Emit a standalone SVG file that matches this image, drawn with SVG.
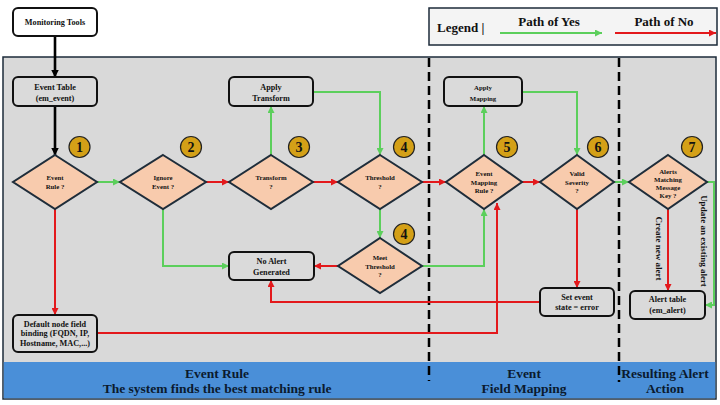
<svg xmlns="http://www.w3.org/2000/svg" width="720" height="405" viewBox="0 0 720 405">
<style>
.t{font-family:"Liberation Serif","Times New Roman",serif;font-weight:bold;text-anchor:middle;fill:#111}
.box{fill:#fff;stroke:#111;stroke-width:2}
.gbox{fill:#dadada;stroke:#111;stroke-width:2}
.dia{fill:#f8cbad;stroke:#1f2d3a;stroke-width:2}
.badge{fill:#d4a017;stroke:#222;stroke-width:1.2}
.g{fill:none;stroke:#5ccf5c;stroke-width:2;marker-end:url(#ag)}
.r{fill:none;stroke:#e3191c;stroke-width:2;marker-end:url(#ar)}
.k{fill:none;stroke:#000;stroke-width:2.6;marker-end:url(#ak)}
.n8{font-size:8.2px}
.n7{font-size:6.8px}
.bn{font-size:14px}
.band{font-size:13.5px;fill:#0b1a2e}
</style>
<defs>
<marker id="ag" markerUnits="userSpaceOnUse" markerWidth="7" markerHeight="7" refX="7" refY="3.5" orient="auto"><path d="M0,0 L7,3.5 L0,7 z" fill="#5ccf5c"/></marker>
<marker id="ar" markerUnits="userSpaceOnUse" markerWidth="7" markerHeight="7" refX="7" refY="3.5" orient="auto"><path d="M0,0 L7,3.5 L0,7 z" fill="#e3191c"/></marker>
<marker id="ak" markerUnits="userSpaceOnUse" markerWidth="8" markerHeight="8" refX="7.5" refY="4" orient="auto"><path d="M0,0 L8,4 L0,8 z" fill="#000"/></marker>
</defs>

<!-- background panels -->
<rect x="3" y="57" width="713" height="342" fill="#d9d9d9" stroke="#1c2b3a" stroke-width="1.5"/>
<rect x="3.75" y="362" width="711.5" height="36.25" fill="#4a8fd8"/>
<line x1="429" y1="58" x2="429" y2="381" stroke="#000" stroke-width="2.5" stroke-dasharray="9,5"/>
<line x1="619" y1="58" x2="619" y2="382" stroke="#000" stroke-width="2.5" stroke-dasharray="9,5"/>

<!-- legend -->
<g id="legend">
<rect x="429" y="8" width="288" height="37" fill="#f4f4f4" stroke="#1c2b3a" stroke-width="1.5"/>
<text class="t" x="437" y="32" style="font-size:13px;text-anchor:start">Legend |</text>
<text class="t" x="549" y="26" style="font-size:13px">Path of Yes</text>
<text class="t" x="664" y="26" style="font-size:13px">Path of No</text>
<path class="g" d="M500,33 H602"/>
<path class="r" d="M615,33 H716"/>
</g>

<!-- connectors -->
<g id="connectors">
<path class="k" d="M55,36 V77"/>
<path class="k" d="M55,106 V155"/>
<path class="g" d="M97,182 H120"/>
<path class="g" d="M163,209 V266 H229"/>
<path class="g" d="M271,155 V106"/>
<path class="g" d="M313,92 H380 V155"/>
<path class="g" d="M380,209 V238"/>
<path class="g" d="M422,266 H484 V209"/>
<path class="g" d="M484,155 V106"/>
<path class="g" d="M522,92 H577 V155"/>
<path class="g" d="M614,182 H629"/>
<path class="g" d="M707,182 H714 V305 H705"/>
<path class="r" d="M55,209 V315"/>
<path class="r" d="M206,182 H229"/>
<path class="r" d="M313,182 H338"/>
<path class="r" d="M422,182 H446"/>
<path class="r" d="M338,266 H314"/>
<path class="r" d="M522,182 H540"/>
<path class="r" d="M577,209 V288"/>
<path class="r" d="M540,302 H271 V280"/>
<path class="r" d="M97,333 H497 V203"/>
<path class="r" d="M668,209 V291"/>
<text class="t" transform="translate(656,248.5) rotate(90)" style="font-size:9px">Create new alert</text>
<text class="t" transform="translate(701,241) rotate(90)" style="font-size:9px">Update an existing alert</text>
</g>

<!-- nodes -->
<g id="monitoring"><rect class="box" x="13" y="8" width="84" height="28" rx="5"/><text class="t n8" x="55" y="25">Monitoring Tools</text></g>
<g id="eventTable"><rect class="gbox" x="13" y="77" width="84" height="29" rx="5"/><text class="t n8" x="55" y="90">Event Table</text><text class="t n8" x="55" y="101">(em_event)</text></g>
<g id="applyTransform"><rect class="gbox" x="229" y="77" width="84" height="29" rx="5"/><text class="t n8" x="271" y="90">Apply</text><text class="t n8" x="271" y="101">Transform</text></g>
<g id="applyMapping"><rect class="gbox" x="444" y="77" width="78" height="29" rx="5"/><text class="t" x="483" y="90" style="font-size:6.8px">Apply</text><text class="t" x="483" y="101" style="font-size:6.8px">Mapping</text></g>
<g id="noAlert"><rect class="gbox" x="229" y="252" width="85" height="28" rx="5"/><text class="t n8" x="271.5" y="264">No Alert</text><text class="t n8" x="271.5" y="275">Generated</text></g>
<g id="defaultBinding"><rect class="gbox" x="13" y="315" width="84" height="37" rx="5"/><text class="t n8" x="55" y="327">Default node field</text><text class="t n8" x="55" y="336">binding (FQDN, IP,</text><text class="t n8" x="55" y="346">Hostname, MAC,...)</text></g>
<g id="setEvent"><rect class="gbox" x="540" y="288" width="74" height="28" rx="5"/><text class="t n8" x="577" y="300">Set event</text><text class="t n8" x="577" y="310">state = error</text></g>
<g id="alertTable"><rect class="gbox" x="630" y="291" width="75" height="28" rx="5"/><text class="t n8" x="667.5" y="302">Alert table</text><text class="t n8" x="667.5" y="313">(em_alert)</text></g>

<g id="d1"><polygon class="dia" points="55,155 97,182 55,209 13,182"/><text class="t n7" x="55" y="180">Event</text><text class="t n7" x="55" y="188.5">Rule ?</text></g>
<g id="d2"><polygon class="dia" points="163,155 206,182 163,209 120,182"/><text class="t n7" x="163" y="180">Ignore</text><text class="t n7" x="163" y="188.5">Event ?</text></g>
<g id="d3"><polygon class="dia" points="271,155 313,182 271,209 229,182"/><text class="t n7" x="271" y="180">Transform</text><text class="t n7" x="271" y="188.5">?</text></g>
<g id="d4"><polygon class="dia" points="380,155 422,182 380,209 338,182"/><text class="t n7" x="380" y="180">Threshold</text><text class="t n7" x="380" y="188.5">?</text></g>
<g id="d4b"><polygon class="dia" points="380,238 422,266 380,293 338,266"/><text class="t n7" x="380" y="260">Meet</text><text class="t n7" x="380" y="269">Threshold</text><text class="t n7" x="380" y="277">?</text></g>
<g id="d5"><polygon class="dia" points="484,155 522,182 484,209 446,182"/><text class="t n7" x="484" y="176">Event</text><text class="t n7" x="484" y="184.5">Mapping</text><text class="t n7" x="484" y="193">Rule ?</text></g>
<g id="d6"><polygon class="dia" points="577,155 614,182 577,209 540,182"/><text class="t n7" x="577" y="176">Valid</text><text class="t n7" x="577" y="184.5">Severity</text><text class="t n7" x="577" y="193">?</text></g>
<g id="d7"><polygon class="dia" points="668,155 707,182 668,209 629,182"/><text class="t n7" x="668" y="174">Alerts</text><text class="t n7" x="668" y="182">Matching</text><text class="t n7" x="668" y="190">Message</text><text class="t n7" x="668" y="198">Key ?</text></g>

<!-- badges -->
<g id="badge1"><circle class="badge" cx="79.5" cy="147" r="10.5"/><text class="t bn" x="79.5" y="152">1</text></g>
<g id="badge2"><circle class="badge" cx="191" cy="147" r="10.5"/><text class="t bn" x="191" y="152">2</text></g>
<g id="badge3"><circle class="badge" cx="299" cy="147" r="10.5"/><text class="t bn" x="299" y="152">3</text></g>
<g id="badge4"><circle class="badge" cx="404" cy="147" r="10.5"/><text class="t bn" x="404" y="152">4</text></g>
<g id="badge4b"><circle class="badge" cx="404" cy="234" r="10.5"/><text class="t bn" x="404" y="239">4</text></g>
<g id="badge5"><circle class="badge" cx="507" cy="147" r="10.5"/><text class="t bn" x="507" y="152">5</text></g>
<g id="badge6"><circle class="badge" cx="598" cy="147" r="10.5"/><text class="t bn" x="598" y="152">6</text></g>
<g id="badge7"><circle class="badge" cx="692" cy="147" r="10.5"/><text class="t bn" x="692" y="152">7</text></g>

<!-- band labels -->
<text class="t band" x="217" y="378">Event Rule</text>
<text class="t band" x="217" y="393">The system finds the best matching rule</text>
<text class="t band" x="524" y="378">Event</text>
<text class="t band" x="524" y="393">Field Mapping</text>
<text class="t band" x="665" y="378">Resulting Alert</text>
<text class="t band" x="665" y="393">Action</text>
</svg>
